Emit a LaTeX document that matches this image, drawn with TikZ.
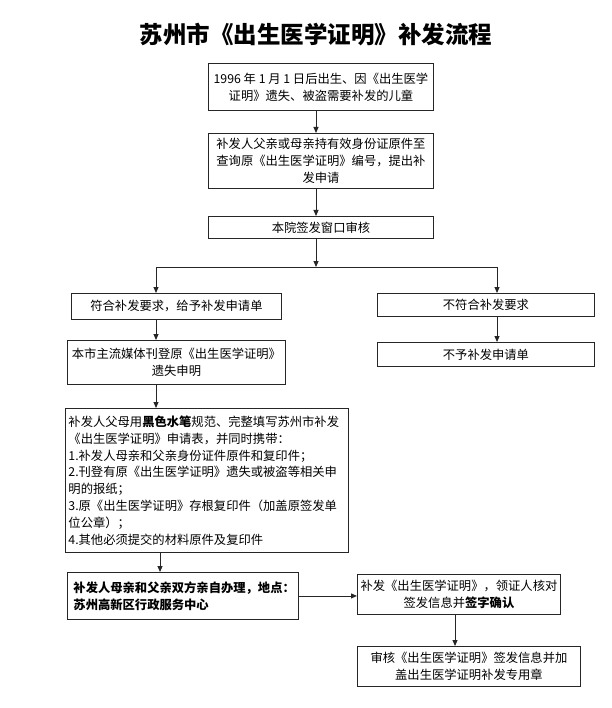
\documentclass[tikz,border=0pt]{standalone}
\usepackage{fontspec}
\setmainfont{Noto Sans CJK SC}
\usetikzlibrary{arrows.meta}
\begin{document}
\begin{tikzpicture}[x=1pt,y=-1pt,
  box/.style={draw=black!85, line width=0.9pt, anchor=north west, inner sep=2pt,
    font=\fontsize{12.3}{16.8}\selectfont, align=center},
  lbox/.style={box, align=left, inner xsep=3pt},
  arr/.style={draw=black!85, line width=0.9pt, -{Triangle[length=6pt,width=5pt]}},
  ln/.style={draw=black!85, line width=0.9pt}]
\useasboundingbox (0,0) rectangle (611,708);
\fill[white] (0,0) rectangle (611,708);

\node[font=\fontsize{23.5}{27}\selectfont\bfseries] (title) at (316,35) {苏州市《出生医学证明》补发流程};

\node[box, minimum width=225pt, minimum height=47pt] (b1) at (208,63)
  {1996 年 1 月 1 日后出生、因《出生医学\\证明》遗失、被盗需要补发的儿童};
\node[box, minimum width=225pt, minimum height=55pt] (b2) at (208,133)
  {补发人父亲或母亲持有效身份证原件至\\查询原《出生医学证明》编号，提出补\\发申请};
\node[box, minimum width=225pt, minimum height=22pt] (b3) at (208,216)
  {本院签发窗口审核};

\coordinate (j) at (316,267);
\coordinate (jl) at (156,267);
\coordinate (jr) at (497,267);
\coordinate (cl) at (160,0);
\coordinate (cr) at (455,0);

\node[box, minimum width=210pt, minimum height=26pt] (l1) at (71,293)
  {符合补发要求，给予补发申请单};
\node[box, minimum width=217pt, minimum height=23pt] (r1) at (377,293)
  {不符合补发要求};
\node[box, minimum width=218pt, minimum height=44pt] (l2) at (67,340)
  {本市主流媒体刊登原《出生医学证明》\\遗失申明};
\node[box, minimum width=217pt, minimum height=24pt] (r2) at (377,342)
  {不予补发申请单};

\node[lbox, text width=277pt, minimum width=283pt, minimum height=144pt] (big) at (65,408)
  {补发人父母用\textbf{黑色水笔}规范、完整填写苏州市补发\\
   《出生医学证明》申请表，并同时携带：\\
   1.补发人母亲和父亲身份证件原件和复印件；\\
   2.刊登有原《出生医学证明》遗失或被盗等相关申\\
   明的报纸；\\
   3.原《出生医学证明》存根复印件（加盖原签发单\\
   位公章）；\\
   4.其他必须提交的材料原件及复印件};

\node[lbox, inner xsep=6pt, text width=219pt, minimum width=231pt, minimum height=47pt] (bl) at (67,572)
  {\textbf{补发人母亲和父亲双方亲自办理，地点：}\\
   \textbf{苏州高新区行政服务中心}};
\node[box, minimum width=203pt, minimum height=40pt] (br1) at (357,574)
  {补发《出生医学证明》，领证人核对\\签发信息并\textbf{签字确认}};
\node[box, minimum width=223pt, minimum height=40pt] (br2) at (357,646)
  {审核《出生医学证明》签发信息并加\\盖出生医学证明补发专用章};

\draw[arr] (b1.south -| j) -- (b2.north -| j);
\draw[arr] (b2.south -| j) -- (b3.north -| j);
\draw[arr] (b3.south -| j) -- (j);
\draw[ln] (jl) -- (jr);
\draw[arr] (jl) -- (l1.north -| jl);
\draw[arr] (jr) -- (r1.north -| jr);
\draw[arr] (l1.south -| jl) -- (l2.north -| jl);
\draw[arr] (r1.south -| jr) -- (r2.north -| jr);
\draw[arr] (l2.south -| jl) -- (big.north -| jl);
\draw[arr] (big.south -| cl) -- (bl.north -| cl);
\draw[arr] (bl.east) -- (bl.east -| br1.west);
\draw[arr] (br1.south -| cr) -- (br2.north -| cr);
\end{tikzpicture}
\end{document}
